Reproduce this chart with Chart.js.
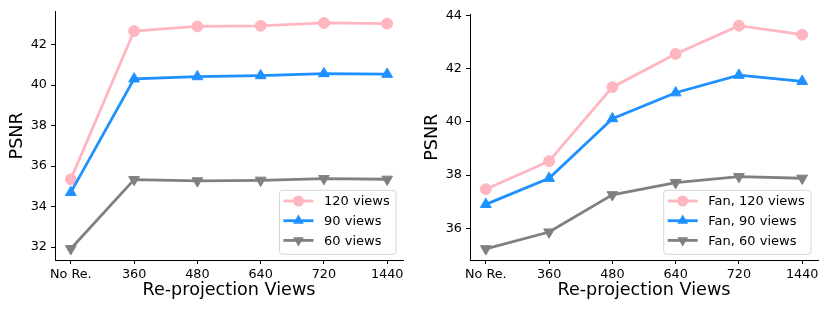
<!DOCTYPE html>
<html>
<head>
<meta charset="utf-8">
<script src="https://cdn.jsdelivr.net/npm/chart.js@4.4.0/dist/chart.umd.min.js"></script>
<style>
  html, body { margin: 0; padding: 0; background: #fff; }
  .wrap { position: relative; width: 830px; height: 312px; }
  canvas { position: absolute; top: 0; }
  #left { left: 0; }
  #right { left: 415px; }
</style>
</head>
<body>
<div class="wrap">
  <canvas id="left" width="415" height="312"></canvas>
  <canvas id="right" width="415" height="312"></canvas>
</div>
<script>
// x categories
var categories = ['No Re.', '360', '480', '640', '720', '1440'];

// left panel (PSNR)
var views120 = [35.35, 42.67, 42.90, 42.93, 43.07, 43.04];
var views90 = [34.70, 40.31, 40.42, 40.47, 40.57, 40.54];
var views60 = [31.92, 35.33, 35.27, 35.30, 35.38, 35.35];
var leftTicks = [32, 34, 36, 38, 40, 42];

// right panel (fan beam)
var fan120 = [37.47, 38.52, 41.30, 42.55, 43.61, 43.27];
var fan90 = [36.90, 37.88, 40.12, 41.09, 41.75, 41.52];
var fan60 = [35.23, 35.86, 37.26, 37.72, 37.94, 37.88];
var rightTicks = [36, 38, 40, 42, 44];

var FONT = 'DejaVu Sans';
var PINK = '#FFB6C1', BLUE = '#1E90FF', GRAY = '#808080';

function toPoints(arr) {
    return arr.map(function(v, i) { return {x: i, y: v}; });
}

function makeSet(label, values, color, style, rot, order) {
    return {
        label: label,
        data: toPoints(values),
        borderColor: color,
        backgroundColor: color,
        borderWidth: 2.8,
        tension: 0,
        pointStyle: style,
        pointRotation: rot,
        pointRadius: style === 'circle' ? 5.5 : 6.2,
        pointBackgroundColor: color,
        pointBorderColor: color,
        pointBorderWidth: 1,
        order: order,
        clip: false
    };
}

// legend drawn inside the plot, lower right, matplotlib style
var insideLegend = {
    id: 'insideLegend',
    afterDatasetsDraw: function(chart) {
        var ctx = chart.ctx, area = chart.chartArea;
        var sets = chart.data.datasets;
        ctx.save();
        ctx.font = '13px "' + FONT + '"';
        var maxW = 0;
        sets.forEach(function(d) { maxW = Math.max(maxW, ctx.measureText(d.label).width); });
        var w = 4 + 30 + 10.6 + maxW + 6.3;
        var h = 64;
        var right = area.right - 7, bottom = area.bottom - 5.7;
        var left = right - w, top = bottom - h;
        ctx.beginPath();
        ctx.roundRect(left, top, w, h, 3);
        ctx.fillStyle = 'rgba(255,255,255,0.8)';
        ctx.fill();
        ctx.strokeStyle = '#d6d6d6';
        ctx.lineWidth = 1;
        ctx.stroke();
        sets.forEach(function(d, i) {
            var y = top + 10.7 + i * 19.7;
            var x0 = left + 4, x1 = x0 + 30, xm = (x0 + x1) / 2;
            ctx.strokeStyle = d.borderColor;
            ctx.lineWidth = d.borderWidth;
            ctx.beginPath();
            ctx.moveTo(x0, y);
            ctx.lineTo(x1, y);
            ctx.stroke();
            ctx.fillStyle = d.borderColor;
            ctx.beginPath();
            if (d.pointStyle === 'circle') {
                ctx.arc(xm, y, d.pointRadius, 0, Math.PI * 2);
            } else {
                var r = d.pointRadius, a = d.pointRotation * Math.PI / 180;
                for (var k = 0; k < 3; k++) {
                    var px = xm + Math.sin(a) * r, py = y - Math.cos(a) * r;
                    if (k === 0) ctx.moveTo(px, py); else ctx.lineTo(px, py);
                    a += Math.PI * 2 / 3;
                }
                ctx.closePath();
            }
            ctx.fill();
            ctx.fillStyle = '#000';
            ctx.textBaseline = 'middle';
            ctx.textAlign = 'left';
            ctx.fillText(d.label, x1 + 10.6, y + 1);
        });
        ctx.restore();
    }
};

function buildChart(id, sets, yTicks, padTop) {
    var all = [];
    sets.forEach(function(s) { all = all.concat(s.data.map(function(p) { return p.y; })); });
    var lo = Math.min.apply(null, all), hi = Math.max.apply(null, all);
    var m = (hi - lo) * 0.05;
    return new Chart(document.getElementById(id).getContext('2d'), {
        type: 'line',
        data: { datasets: sets },
        plugins: [insideLegend],
        options: {
            responsive: false,
            animation: false,
            devicePixelRatio: 1,
            layout: { padding: { left: 0, top: padTop, right: 12, bottom: 0 } },
            plugins: { legend: { display: false }, tooltip: { enabled: false } },
            scales: {
                x: {
                    type: 'linear',
                    min: -0.25,
                    max: categories.length - 0.75,
                    afterBuildTicks: function(s) {
                        s.ticks = categories.map(function(c, i) { return {value: i}; });
                    },
                    afterFit: function(s) { s.height = 52; },
                    ticks: {
                        color: '#000',
                        font: { family: FONT, size: 12.8 },
                        padding: 3,
                        maxRotation: 0,
                        autoSkip: false,
                        callback: function(v) { return categories[v]; }
                    },
                    grid: { drawOnChartArea: false, drawTicks: true, tickLength: 4, color: '#000' },
                    border: { display: true, color: '#000', width: 1 },
                    title: {
                        display: true,
                        text: 'Re-projection Views',
                        color: '#000',
                        font: { family: FONT, size: 17.6 },
                        padding: { top: 0, bottom: 11 }
                    }
                },
                y: {
                    type: 'linear',
                    min: lo - m,
                    max: hi + m,
                    afterBuildTicks: function(s) {
                        s.ticks = yTicks.map(function(v) { return {value: v}; });
                    },
                    afterFit: function(s) { s.width = 55; },
                    ticks: {
                        color: '#000',
                        font: { family: FONT, size: 12.8 },
                        padding: 4
                    },
                    grid: { drawOnChartArea: false, drawTicks: true, tickLength: 4, color: '#000' },
                    border: { display: true, color: '#000', width: 1 },
                    title: {
                        display: true,
                        text: 'PSNR',
                        color: '#000',
                        font: { family: FONT, size: 17.6 },
                        padding: { top: 7, bottom: 0 }
                    }
                }
            }
        }
    });
}

buildChart('left', [
    makeSet('120 views', views120, PINK, 'circle', 0, 2),
    makeSet('90 views', views90, BLUE, 'triangle', 0, 1),
    makeSet('60 views', views60, GRAY, 'triangle', 180, 0)
], leftTicks, 10);

buildChart('right', [
    makeSet('Fan, 120 views', fan120, PINK, 'circle', 0, 2),
    makeSet('Fan, 90 views', fan90, BLUE, 'triangle', 0, 1),
    makeSet('Fan, 60 views', fan60, GRAY, 'triangle', 180, 0)
], rightTicks, 14.5);
</script>
</body>
</html>
